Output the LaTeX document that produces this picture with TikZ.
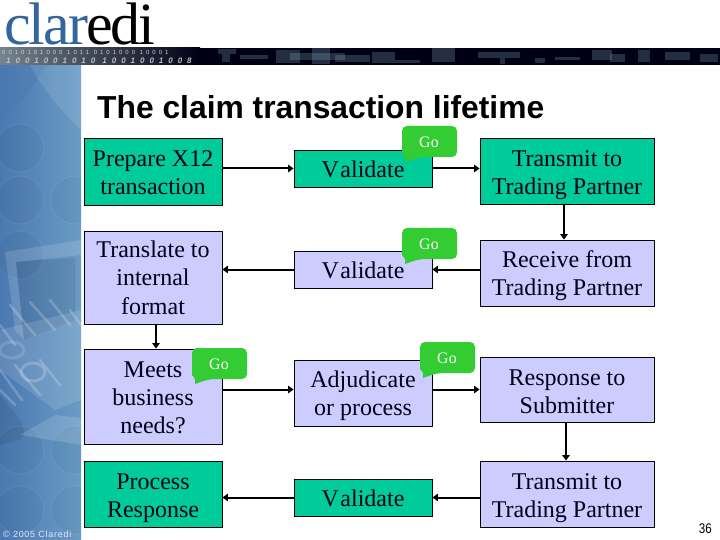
\documentclass[tikz,border=0pt]{standalone}
\usepackage{fontspec}
\setmainfont{Liberation Serif}
\newfontfamily\arialf{Liberation Sans}
\usetikzlibrary{arrows.meta,calc}
\definecolor{tealbox}{HTML}{00CC99}
\definecolor{lavbox}{HTML}{CCCCFF}
\definecolor{gogreen}{HTML}{33CC33}
\definecolor{logoblue}{HTML}{33669A}
\definecolor{sideA}{HTML}{4A78B0}
\definecolor{sideB}{HTML}{6A9CC5}
\definecolor{sideC}{HTML}{7FA6C0}
\definecolor{bandgrey}{HTML}{74848F}
\tikzset{
  flowbox/.style={draw=black,line width=0.9pt,inner sep=0pt,align=center,text=black!90!blue,
    font=\fontsize{24}{28.3}\selectfont},
  tealflow/.style={flowbox,fill=tealbox},
  lavflow/.style={flowbox,fill=lavbox},
  flowarrow/.style={line width=2pt,-{Triangle[length=5.5pt,width=7.5pt]}},
  callout/.style={fill=gogreen,draw=none},
  golabel/.style={text=white,inner sep=0pt,font=\fontsize{16}{18}\selectfont},
  circ/.style={draw=white,draw opacity=0.07,line width=1pt,fill=black,fill opacity=0.03},
  keyline/.style={draw=white,draw opacity=0.2,line width=2.5pt,line cap=round},
  bandbit/.style={fill=sideC,fill opacity=0.28,draw=none},
}
\newcommand{\dn}[1]{\rule{0pt}{\dimexpr16.5pt+#1pt*2\relax}}
\newcommand{\gobubble}[3]{%
  \begin{scope}[shift={(#1,#2)}]
    \fill[callout] (5,0) -- (50,0) arc[start angle=-90,end angle=0,radius=5] -- (55,26)
      arc[start angle=0,end angle=90,radius=5] -- (24,31)
      .. controls (15,31) and (9,34) .. (3,36)
      .. controls (4,33) and (3,30) .. (0,27) -- (0,5) arc[start angle=180,end angle=270,radius=5] -- cycle;
    \node[golabel] (#3) at (27,16) {Go};
  \end{scope}}
\begin{document}
\begin{tikzpicture}[x=1pt,y=-1pt]
\useasboundingbox (0,0) rectangle (720,540);
\fill[white] (0,0) rectangle (720,540);
% sidebar
\begin{scope}
  \clip (0,65) rectangle (81,540);
  \shade[left color=sideA,right color=sideB] (0,65) rectangle (81,540);
  \fill[sideA,opacity=0.4] (-10,60) -- (50,60) .. controls (30,90) and (20,110) .. (-10,130) -- cycle;
  \fill[white,opacity=0.10] (81,65) -- (81,130) .. controls (60,110) and (40,85) .. (30,65) -- cycle;
  \foreach \cx/\cy in {20/148,20/200,75/200,20/255,20/450,75/450,20/510,75/510}
    \draw[circ] (\cx,\cy) circle (24);
  % monitor
  \fill[white,opacity=0.14] (5,252) -- (81,240) -- (81,255) -- (16,262) -- (24,340) -- (15,330) -- cycle;
  \fill[black,opacity=0.08] (16,262) -- (75,258) -- (75,320) -- (24,340) -- cycle;
  \fill[white,opacity=0.12] (0,330) -- (81,310) -- (81,400) -- (55,410) -- (0,370) -- cycle;
  % keys
  \foreach \a/\b/\c/\d in {0/325/15/345,10/305/35/335,30/302/55/330,50/300/70/325,70/310/81/325,0/370/22/400,15/365/40/395,0/390/15/405,40/360/60/385}
    \draw[keyline] (\a,\b) -- (\c,\d);
  \draw[white,opacity=0.2,line width=3pt] (33,372) ellipse (12 and 9);
  \draw[white,opacity=0.14,line width=3pt] (12,350) ellipse (12 and 8);
  % keyboard / lower shade
  \fill[white,opacity=0.14] (20,435) -- (55,415) -- (81,418) -- (81,445) -- cycle;
  \fill[black,opacity=0.08] (0,395) .. controls (20,420) and (30,430) .. (20,440) -- (0,445) -- cycle;
\end{scope}
% header band
\fill[black!92!blue] (0,48) rectangle (720,65);
\begin{scope}
  \clip (0,48) rectangle (720,65);
  \shade[left color=bandgrey,right color=black!92!blue] (0,48) rectangle (200,65);
  \foreach \a/\b/\c/\d in {218/49/236/54,222/54/230/62,240/55/268/59,276/50/300/63,290/53/345/60,312/48/330/64,335/55/370/62,372/52/395/60,372/60/420/63,432/48/455/62,478/52/520/58,500/58/505/64,535/58/545/63,555/57/580/60,592/50/612/60,610/54/625/62,638/50/650/62,665/52/690/60,700/54/718/62}
    \fill[bandbit] (\a,\b) rectangle (\c,\d);
\end{scope}
\node[anchor=base west,inner sep=0pt,text=white!82!black,font=\arialf\fontsize{6}{6}\selectfont\addfontfeature{LetterSpace=50}] (bits1) at (2,54.5) {0010101000 1011 0101000 10001};
\node[anchor=base west,inner sep=0pt,text=white!75!black,font=\arialf\bfseries\itshape\fontsize{8}{8}\selectfont\addfontfeature{LetterSpace=62}] (bits2) at (6,63.5) {1001001010 1001001008};
% logo
\node[anchor=base west,inner sep=0pt,font=\fontsize{60}{60}\selectfont] (logo) at (4,45)
  {\textcolor{logoblue}{c\kern-2pt l\kern-2pt a\kern-2pt r}\kern-2pt\textcolor{black}{e\kern-2pt d\kern-2pt i}};
% title
\node[anchor=base west,inner sep=0pt,font=\arialf\bfseries\fontsize{31.8}{34}\selectfont] (title) at (97,118.5) {The claim transaction lifetime};
% boxes
\node[tealflow,minimum width=138pt,minimum height=67pt] (prep) at (153,171.5) {\dn{1}Prepare X12\\transaction};
\node[lavflow,minimum width=138pt,minimum height=93pt] (transl) at (153,277.5) {Translate to\\internal\\format};
\node[lavflow,minimum width=138pt,minimum height=95pt] (meets) at (153,396.5) {\dn{1}Meets\\business\\needs?};
\node[tealflow,minimum width=138pt,minimum height=66pt] (proc) at (153,494) {\dn{3.5}Process\\Response};
\node[tealflow,minimum width=138pt,minimum height=37pt] (val1) at (363,168.5) {\dn{1}V\kern1.5pt alidate};
\node[lavflow,minimum width=138pt,minimum height=37pt] (val2) at (363,269.5) {\dn{1}V\kern1.5pt alidate};
\node[lavflow,minimum width=138pt,minimum height=66pt] (adj) at (363,393) {\dn{3}Adjudicate\\or process};
\node[tealflow,minimum width=138pt,minimum height=37pt] (val4) at (363,497.5) {\dn{1}V\kern1.5pt alidate};
\node[tealflow,minimum width=174pt,minimum height=66pt] (tx1) at (567,171.5) {\dn{3}Transmit to\\Trading Partner};
\node[lavflow,minimum width=174pt,minimum height=66pt] (recv) at (567,273) {\dn{3}Receive from\\Trading Partner};
\node[lavflow,minimum width=174pt,minimum height=65pt] (resp) at (567,389.5) {\dn{2}Response to\\Submitter};
\node[lavflow,minimum width=174pt,minimum height=66pt] (tx2) at (567,494) {\dn{3.5}Transmit to\\Trading Partner};
% connectors
\draw[flowarrow] (prep.east |- val1.west) -- (val1.west);
\draw[flowarrow] (val1.east) -- (tx1.west |- val1.east);
\draw[flowarrow] ($(tx1.south)+(-3,0)$) -- ($(recv.north)+(-3,0)$);
\draw[flowarrow] (recv.west |- val2.east) -- (val2.east);
\draw[flowarrow] (val2.west) -- (transl.east |- val2.west);
\draw[flowarrow] ($(transl.south)+(3,0)$) -- ($(meets.north)+(3,0)$);
\draw[flowarrow] (meets.east |- resp.west) -- (adj.west |- resp.west);
\draw[flowarrow] (adj.east |- resp.west) -- (resp.west);
\draw[flowarrow] ($(resp.south)+(-1,0)$) -- ($(tx2.north)+(-1,0)$);
\draw[flowarrow] (tx2.west |- val4.east) -- (val4.east);
\draw[flowarrow] (val4.west) -- (proc.east |- val4.west);
% callouts
\gobubble{402}{126}{go1}
\gobubble{402}{228}{go2}
\gobubble{192}{348}{go3}
\gobubble{420}{342}{go4}
% footer
\node[anchor=base west,inner sep=0pt,text=white!90!blue,font=\arialf\fontsize{9}{10}\selectfont\addfontfeature{LetterSpace=8}] (copy) at (3,537) {© 2005 Claredi};
\node[anchor=base east,inner sep=0pt,xscale=0.83,font=\arialf\fontsize{14}{15}\selectfont] (pageno) at (712,533) {36};
\end{tikzpicture}
\end{document}
